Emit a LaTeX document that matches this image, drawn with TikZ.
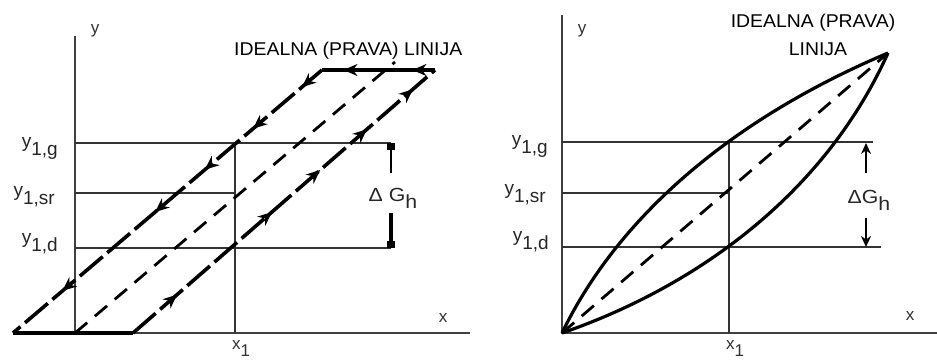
\documentclass[tikz,border=0pt]{standalone}
\usepackage{fontspec}
\setmainfont{Liberation Sans}
\usetikzlibrary{arrows.meta,decorations.markings}
\newcommand{\wid}[1]{\scalebox{1.12}[1]{#1}}
\newcommand{\twid}[1]{\scalebox{1.05}[1]{#1}}
\newcommand{\ysub}[1]{y\raisebox{-8pt}{#1}}
\begin{document}
\begin{tikzpicture}[x=1pt,y=-1pt,
  axis/.style={line width=1.8pt,black!75},
  guide/.style={line width=1.3pt,black!80},
  loopline/.style={line width=3.6pt},
  slant/.style={line width=3.6pt,dash pattern=on 30pt off 6pt},
  ideal/.style={line width=2.8pt,dash pattern=on 16pt off 10pt},
  curve/.style={line width=3.2pt},
  lbl/.style={font=\fontsize{19}{20}\selectfont,inner sep=0pt,black!85},
  axlbl/.style={font=\fontsize{17}{18}\selectfont,inner sep=0pt,black!80},
  title/.style={font=\fontsize{18.5}{20}\selectfont,inner sep=0pt},
  tp/.tip={Stealth[length=14pt,width=12pt]},
]
\useasboundingbox (0,0) rectangle (937,362);

% ================= LEFT PANEL =================
\coordinate (Ly0) at (75,36);
\coordinate (LO) at (75,333);
\coordinate (Lxe) at (470,333);
\coordinate (Lx1) at (235,333);
\coordinate (Lx1t) at (235,143);
\coordinate (Lgl) at (75,143);
\coordinate (Lgr) at (391,143);
\coordinate (Lsl) at (75,193);
\coordinate (Lsr) at (235,193);
\coordinate (Ldl) at (75,248);
\coordinate (Ldr) at (391,248);
\coordinate (P1) at (13,333);
\coordinate (P2) at (322,70);
\coordinate (P3) at (435,70);
\coordinate (P4) at (133,333);
\coordinate (Li1) at (75,333);
\coordinate (Li2) at (395,62);

\draw[axis] (Ly0) -- (LO) -- (Lxe);
\draw[guide] (Lx1t) -- (Lx1);
\draw[guide] (Lgl) -- (Lgr);
\draw[guide] (Lsl) -- (Lsr);
\draw[guide] (Ldl) -- (Ldr);

\draw[ideal] (Li1) -- (Li2);

\draw[loopline] (P1) -- (P4);
\draw[slant,
  decoration={markings,
    mark=at position 0.146 with {\arrow{tp}},
    mark=at position 0.46 with {\arrow{tp}},
    mark=at position 0.62 with {\arrow{tp}},
    mark=at position 0.775 with {\arrow{tp}},
    mark=at position 0.927 with {\arrow{tp}}},
  postaction={decorate}] (P4) -- (P3);
\draw[loopline,
  decoration={markings,
    mark=at position 0.2 with {\arrow{tp}},
    mark=at position 0.81 with {\arrow{tp}}},
  postaction={decorate}] (P3) -- (P2);
\draw[slant,
  decoration={markings,
    mark=at position 0.065 with {\arrow{tp}},
    mark=at position 0.223 with {\arrow{tp}},
    mark=at position 0.379 with {\arrow{tp}},
    mark=at position 0.54 with {\arrow{tp}},
    mark=at position 0.84 with {\arrow{tp}}},
  postaction={decorate}] (P2) -- (P1);

% Delta G left
\coordinate (LdgA) at (391,173);
\coordinate (LdgB) at (391,213);
\draw[line width=1.3pt,{Square[length=7pt,width=8pt]}-] (Lgr) -- (LdgA);
\draw[line width=3.2pt,-{Square[length=7pt,width=8pt]}] (LdgB) -- (Ldr);

\node[lbl] (Ldg) at (393,198) {\wid{Δ G\raisebox{-7pt}{h}}};
\node[title,anchor=west] (Lt) at (234,51) {\twid{IDEALNA (PRAVA) LINIJA}};
\node[axlbl] (Lyl) at (95,31) {y};
\node[axlbl] (Lxl) at (443,318) {x};
\node[axlbl] (Lx1l) at (241,349) {x\raisebox{-7pt}{1}};
\node[lbl,anchor=east] (Lg) at (58,148) {\ysub{1,g}};
\node[lbl,anchor=east] (Ls) at (55,197) {\ysub{1,sr}};
\node[lbl,anchor=east] (Ld) at (58,244) {\ysub{1,d}};

% ================= RIGHT PANEL =================
\coordinate (Ry0) at (562,15);
\coordinate (RO) at (562,333);
\coordinate (Rxe) at (937,333);
\coordinate (Rx1) at (729,333);
\coordinate (Rx1t) at (729,142);
\coordinate (Rgl) at (562,142);
\coordinate (Rgr) at (873,142);
\coordinate (Rsl) at (562,193);
\coordinate (Rsr) at (729,193);
\coordinate (Rdl) at (562,247);
\coordinate (Rdr) at (881,247);
\coordinate (RT) at (888,53);

\draw[axis] (Ry0) -- (RO) -- (Rxe);
\draw[guide] (Rx1t) -- (Rx1);
\draw[guide] (Rgl) -- (Rgr);
\draw[guide] (Rsl) -- (Rsr);
\draw[guide] (Rdl) -- (Rdr);

\draw[ideal] (RO) -- (RT);
\draw[curve] (RO) .. controls (624,205) and (748,112) .. (RT);
\draw[curve] (RO) .. controls (698,286) and (825,193) .. (RT);

% Delta G right
\coordinate (RdgA) at (866,173);
\coordinate (RdgB) at (866,218);
\coordinate (RdgT) at (866,143);
\coordinate (RdgD) at (866,247);
\draw[line width=2.8pt,-{Stealth[length=11pt,width=10pt]}] (RdgA) -- (RdgT);
\draw[line width=2.8pt,-{Stealth[length=11pt,width=10pt]}] (RdgB) -- (RdgD);

\node[lbl] (Rdg) at (869,200) {\wid{ΔG\raisebox{-7pt}{h}}};
\node[title] (Rt1) at (813,23) {\twid{IDEALNA (PRAVA)}};
\node[title] (Rt2) at (818,49) {\twid{LINIJA}};
\node[axlbl] (Ryl) at (582,31) {y};
\node[axlbl] (Rxl) at (910,316) {x};
\node[axlbl] (Rx1l) at (735,349) {x\raisebox{-7pt}{1}};
\node[lbl,anchor=east] (Rg) at (548,146) {\ysub{1,g}};
\node[lbl,anchor=east] (Rs) at (546,195) {\ysub{1,sr}};
\node[lbl,anchor=east] (Rd) at (549,242) {\ysub{1,d}};
\end{tikzpicture}
\end{document}
